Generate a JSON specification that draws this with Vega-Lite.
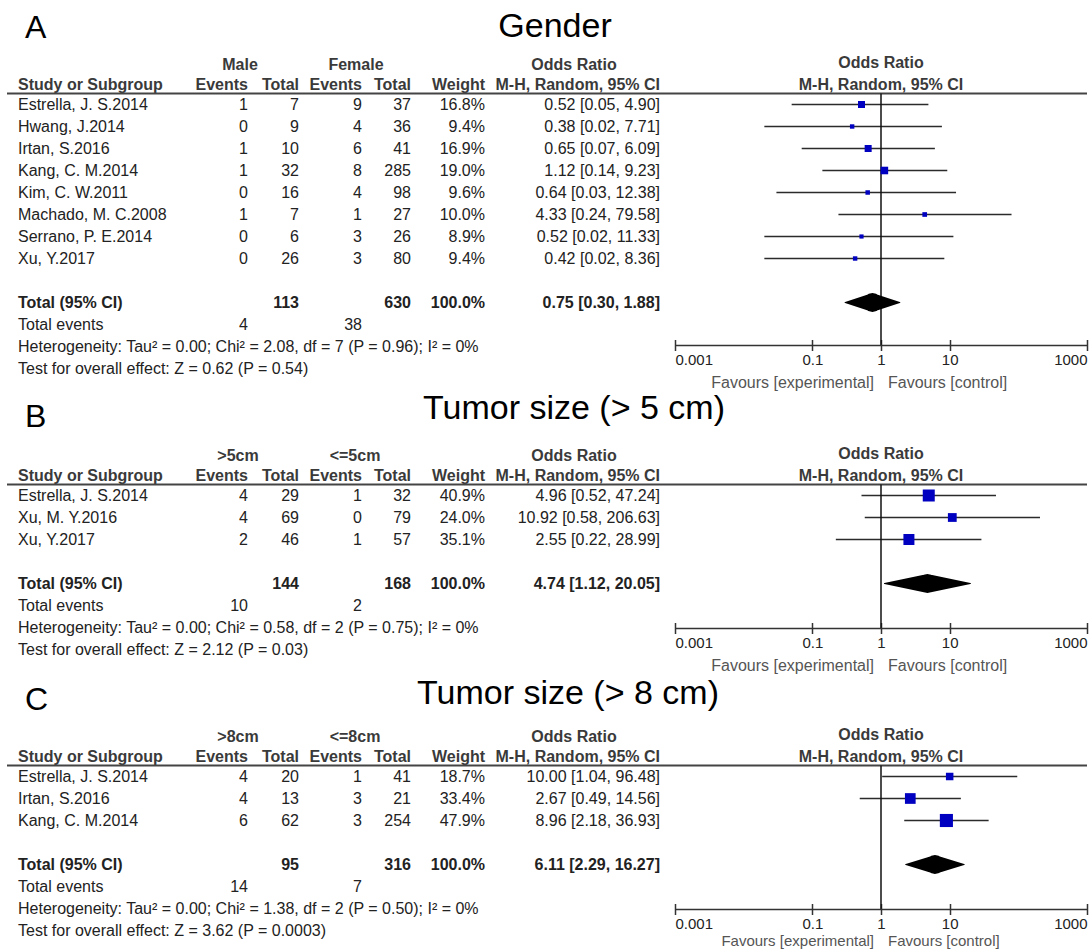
{
"$schema": "https://vega.github.io/schema/vega-lite/v6.json",
"padding": {"left": 6, "right": 5, "top": 0, "bottom": 0},
"background": "white",
"config": {
  "view": {"stroke": null},
  "text": {"font": "Liberation Sans", "fontSize": 16, "color": "#222", "baseline": "middle"},
  "axis": {"labelFont": "Liberation Sans"}
},
"datasets": {
  "titles": [
    {"p": "A", "letter": "A", "title": "Gender"},
    {"p": "B", "letter": "B", "title": "Tumor size (>  5 cm)"},
    {"p": "C", "letter": "C", "title": "Tumor size (> 8 cm)"}
  ],
  "heads": [
    {"col": "study", "r": 0, "t": "Study or Subgroup"},
    {"col": "e1", "r": 0, "t": "Events"},
    {"col": "n1", "r": 0, "t": "Total"},
    {"col": "e2", "r": 0, "t": "Events"},
    {"col": "n2", "r": 0, "t": "Total"},
    {"col": "w", "r": 0, "t": "Weight"},
    {"col": "ci", "r": 0, "t": "M-H, Random, 95% CI"},
    {"col": "ci", "r": -1, "t": "Odds Ratio"},
    {"col": "forest", "r": 0, "t": "M-H, Random, 95% CI"},
    {"col": "forest", "r": -1, "t": "Odds Ratio"}
  ],
  "groups": [
    {"p": "A", "col": "e1", "r": -1, "t": "Male"},
    {"p": "A", "col": "e2", "r": -1, "t": "Female"},
    {"p": "B", "col": "e1", "r": -1, "t": ">5cm"},
    {"p": "B", "col": "e2", "r": -1, "t": "<=5cm"},
    {"p": "C", "col": "e1", "r": -1, "t": ">8cm"},
    {"p": "C", "col": "e2", "r": -1, "t": "<=8cm"}
  ],
  "favours": [
    {"side": "experimental", "t": "Favours [experimental]"},
    {"side": "control", "t": "Favours [control]"}
  ],
  "table": [
    {"p":"A","r":1,"kind":"study","label":"Estrella, J. S.2014","e1":1,"n1":7,"e2":9,"n2":37,"w":0.168,"ci":"0.52 [0.05, 4.90]","est":0.52,"lo":0.05,"hi":4.90},
    {"p":"A","r":2,"kind":"study","label":"Hwang, J.2014","e1":0,"n1":9,"e2":4,"n2":36,"w":0.094,"ci":"0.38 [0.02, 7.71]","est":0.38,"lo":0.02,"hi":7.71},
    {"p":"A","r":3,"kind":"study","label":"Irtan, S.2016","e1":1,"n1":10,"e2":6,"n2":41,"w":0.169,"ci":"0.65 [0.07, 6.09]","est":0.65,"lo":0.07,"hi":6.09},
    {"p":"A","r":4,"kind":"study","label":"Kang, C. M.2014","e1":1,"n1":32,"e2":8,"n2":285,"w":0.19,"ci":"1.12 [0.14, 9.23]","est":1.12,"lo":0.14,"hi":9.23},
    {"p":"A","r":5,"kind":"study","label":"Kim, C. W.2011","e1":0,"n1":16,"e2":4,"n2":98,"w":0.096,"ci":"0.64 [0.03, 12.38]","est":0.64,"lo":0.03,"hi":12.38},
    {"p":"A","r":6,"kind":"study","label":"Machado, M. C.2008","e1":1,"n1":7,"e2":1,"n2":27,"w":0.10,"ci":"4.33 [0.24, 79.58]","est":4.33,"lo":0.24,"hi":79.58},
    {"p":"A","r":7,"kind":"study","label":"Serrano, P. E.2014","e1":0,"n1":6,"e2":3,"n2":26,"w":0.089,"ci":"0.52 [0.02, 11.33]","est":0.52,"lo":0.02,"hi":11.33},
    {"p":"A","r":8,"kind":"study","label":"Xu, Y.2017","e1":0,"n1":26,"e2":3,"n2":80,"w":0.094,"ci":"0.42 [0.02, 8.36]","est":0.42,"lo":0.02,"hi":8.36},
    {"p":"A","r":10,"kind":"total","label":"Total (95% CI)","n1":113,"n2":630,"w":1,"ci":"0.75 [0.30, 1.88]","est":0.75,"lo":0.30,"hi":1.88},
    {"p":"A","r":11,"kind":"events","label":"Total events","e1":4,"e2":38},
    {"p":"A","r":12,"kind":"note","label":"Heterogeneity: Tau² = 0.00; Chi² = 2.08, df = 7 (P = 0.96); I² = 0%"},
    {"p":"A","r":13,"kind":"note","label":"Test for overall effect: Z = 0.62 (P = 0.54)"},
    {"p":"B","r":1,"kind":"study","label":"Estrella, J. S.2014","e1":4,"n1":29,"e2":1,"n2":32,"w":0.409,"ci":"4.96 [0.52, 47.24]","est":4.96,"lo":0.52,"hi":47.24},
    {"p":"B","r":2,"kind":"study","label":"Xu, M. Y.2016","e1":4,"n1":69,"e2":0,"n2":79,"w":0.24,"ci":"10.92 [0.58, 206.63]","est":10.92,"lo":0.58,"hi":206.63},
    {"p":"B","r":3,"kind":"study","label":"Xu, Y.2017","e1":2,"n1":46,"e2":1,"n2":57,"w":0.351,"ci":"2.55 [0.22, 28.99]","est":2.55,"lo":0.22,"hi":28.99},
    {"p":"B","r":5,"kind":"total","label":"Total (95% CI)","n1":144,"n2":168,"w":1,"ci":"4.74 [1.12, 20.05]","est":4.74,"lo":1.12,"hi":20.05},
    {"p":"B","r":6,"kind":"events","label":"Total events","e1":10,"e2":2},
    {"p":"B","r":7,"kind":"note","label":"Heterogeneity: Tau² = 0.00; Chi² = 0.58, df = 2 (P = 0.75); I² = 0%"},
    {"p":"B","r":8,"kind":"note","label":"Test for overall effect: Z = 2.12 (P = 0.03)"},
    {"p":"C","r":1,"kind":"study","label":"Estrella, J. S.2014","e1":4,"n1":20,"e2":1,"n2":41,"w":0.187,"ci":"10.00 [1.04, 96.48]","est":10.0,"lo":1.04,"hi":96.48},
    {"p":"C","r":2,"kind":"study","label":"Irtan, S.2016","e1":4,"n1":13,"e2":3,"n2":21,"w":0.334,"ci":"2.67 [0.49, 14.56]","est":2.67,"lo":0.49,"hi":14.56},
    {"p":"C","r":3,"kind":"study","label":"Kang, C. M.2014","e1":6,"n1":62,"e2":3,"n2":254,"w":0.479,"ci":"8.96 [2.18, 36.93]","est":8.96,"lo":2.18,"hi":36.93},
    {"p":"C","r":5,"kind":"total","label":"Total (95% CI)","n1":95,"n2":316,"w":1,"ci":"6.11 [2.29, 16.27]","est":6.11,"lo":2.29,"hi":16.27},
    {"p":"C","r":6,"kind":"events","label":"Total events","e1":14,"e2":7},
    {"p":"C","r":7,"kind":"note","label":"Heterogeneity: Tau² = 0.00; Chi² = 1.38, df = 2 (P = 0.50); I² = 0%"},
    {"p":"C","r":8,"kind":"note","label":"Test for overall effect: Z = 3.62 (P = 0.0003)"}
  ]
},
"spacing": 0,
"vconcat": [
  {"width": 1080, "height": 41.5, "data": {"name": "titles"}, "transform": [{"filter": "datum.p=='A'"}],
   "layer": [
     {"mark": {"type": "text", "align": "left", "fontSize": 32, "color": "#000", "dx": 18, "dy": 7}, "encoding": {"x": {"value": 0}, "text": {"field": "letter", "type": "nominal"}}},
     {"mark": {"type": "text", "fontSize": 34, "color": "#000", "dx": 8, "dy": 6}, "encoding": {"text": {"field": "title", "type": "nominal"}}}
   ]},
  {"spacing": 0, "bounds": "flush", "hconcat": [
    {"width": 184, "height": 335.5, "encoding": {"y": {"field": "r", "type": "quantitative", "axis": null, "scale": {"domain": [-1.75, 13.5], "reverse": true, "nice": false, "zero": false}}},
     "layer": [
       {"data": {"name": "table"}, "transform": [{"filter": "datum.p=='A' && datum.kind!='total'"}], "mark": {"type": "text", "align": "left", "dx": 11}, "encoding": {"x": {"value": 0}, "text": {"field": "label", "type": "nominal"}}},
       {"data": {"name": "table"}, "transform": [{"filter": "datum.p=='A' && datum.kind=='total'"}], "mark": {"type": "text", "align": "left", "dx": 11, "fontWeight": "bold"}, "encoding": {"x": {"value": 0}, "text": {"field": "label", "type": "nominal"}}},
       {"data": {"name": "heads"}, "transform": [{"filter": "datum.col=='study'"}], "mark": {"type": "text", "align": "left", "dx": 11, "dy": 2, "fontWeight": "bold", "color": "#3a3a3a"}, "encoding": {"x": {"value": 0}, "text": {"field": "t", "type": "nominal"}}},
       {"data": {"name": "heads"}, "transform": [{"filter": "datum.col=='study'"}], "mark": {"type": "rule", "color": "#444", "strokeWidth": 2}, "encoding": {"y": {"datum": 0.5}}}
     ]},
    {"width": 57, "height": 335.5, "encoding": {"y": {"field": "r", "type": "quantitative", "axis": null, "scale": {"domain": [-1.75, 13.5], "reverse": true, "nice": false, "zero": false}}},
     "layer": [
       {"data": {"name": "table"}, "transform": [{"filter": "datum.p=='A' && isValid(datum.e1)"}], "mark": {"type": "text", "align": "right"}, "encoding": {"x": {"value": "width"}, "text": {"field": "e1", "type": "nominal"}}},
       {"data": {"name": "heads"}, "transform": [{"filter": "datum.col=='e1'"}], "mark": {"type": "text", "align": "right", "dy": 2, "fontWeight": "bold", "color": "#3a3a3a"}, "encoding": {"x": {"value": "width"}, "text": {"field": "t", "type": "nominal"}}},
       {"data": {"name": "groups"}, "transform": [{"filter": "datum.p=='A' && datum.col=='e1'"}], "mark": {"type": "text", "align": "center", "dx": -8, "dy": 4, "fontWeight": "bold", "color": "#3a3a3a"}, "encoding": {"x": {"value": "width"}, "text": {"field": "t", "type": "nominal"}}},
       {"data": {"name": "heads"}, "transform": [{"filter": "datum.col=='e1'"}], "mark": {"type": "rule", "color": "#444", "strokeWidth": 2}, "encoding": {"y": {"datum": 0.5}}}
     ]},
    {"width": 51, "height": 335.5, "encoding": {"y": {"field": "r", "type": "quantitative", "axis": null, "scale": {"domain": [-1.75, 13.5], "reverse": true, "nice": false, "zero": false}}},
     "layer": [
       {"data": {"name": "table"}, "transform": [{"filter": "datum.p=='A' && datum.kind=='study'"}], "mark": {"type": "text", "align": "right"}, "encoding": {"x": {"value": "width"}, "text": {"field": "n1", "type": "nominal"}}},
       {"data": {"name": "table"}, "transform": [{"filter": "datum.p=='A' && datum.kind=='total'"}], "mark": {"type": "text", "align": "right", "fontWeight": "bold"}, "encoding": {"x": {"value": "width"}, "text": {"field": "n1", "type": "nominal"}}},
       {"data": {"name": "heads"}, "transform": [{"filter": "datum.col=='n1'"}], "mark": {"type": "text", "align": "right", "dy": 2, "fontWeight": "bold", "color": "#3a3a3a"}, "encoding": {"x": {"value": "width"}, "text": {"field": "t", "type": "nominal"}}},
       {"data": {"name": "heads"}, "transform": [{"filter": "datum.col=='n1'"}], "mark": {"type": "rule", "color": "#444", "strokeWidth": 2}, "encoding": {"y": {"datum": 0.5}}}
     ]},
    {"width": 63, "height": 335.5, "encoding": {"y": {"field": "r", "type": "quantitative", "axis": null, "scale": {"domain": [-1.75, 13.5], "reverse": true, "nice": false, "zero": false}}},
     "layer": [
       {"data": {"name": "table"}, "transform": [{"filter": "datum.p=='A' && isValid(datum.e2)"}], "mark": {"type": "text", "align": "right"}, "encoding": {"x": {"value": "width"}, "text": {"field": "e2", "type": "nominal"}}},
       {"data": {"name": "heads"}, "transform": [{"filter": "datum.col=='e2'"}], "mark": {"type": "text", "align": "right", "dy": 2, "fontWeight": "bold", "color": "#3a3a3a"}, "encoding": {"x": {"value": "width"}, "text": {"field": "t", "type": "nominal"}}},
       {"data": {"name": "groups"}, "transform": [{"filter": "datum.p=='A' && datum.col=='e2'"}], "mark": {"type": "text", "align": "center", "dx": -6, "dy": 4, "fontWeight": "bold", "color": "#3a3a3a"}, "encoding": {"x": {"value": "width"}, "text": {"field": "t", "type": "nominal"}}},
       {"data": {"name": "heads"}, "transform": [{"filter": "datum.col=='e2'"}], "mark": {"type": "rule", "color": "#444", "strokeWidth": 2}, "encoding": {"y": {"datum": 0.5}}}
     ]},
    {"width": 49, "height": 335.5, "encoding": {"y": {"field": "r", "type": "quantitative", "axis": null, "scale": {"domain": [-1.75, 13.5], "reverse": true, "nice": false, "zero": false}}},
     "layer": [
       {"data": {"name": "table"}, "transform": [{"filter": "datum.p=='A' && datum.kind=='study'"}], "mark": {"type": "text", "align": "right"}, "encoding": {"x": {"value": "width"}, "text": {"field": "n2", "type": "nominal"}}},
       {"data": {"name": "table"}, "transform": [{"filter": "datum.p=='A' && datum.kind=='total'"}], "mark": {"type": "text", "align": "right", "fontWeight": "bold"}, "encoding": {"x": {"value": "width"}, "text": {"field": "n2", "type": "nominal"}}},
       {"data": {"name": "heads"}, "transform": [{"filter": "datum.col=='n2'"}], "mark": {"type": "text", "align": "right", "dy": 2, "fontWeight": "bold", "color": "#3a3a3a"}, "encoding": {"x": {"value": "width"}, "text": {"field": "t", "type": "nominal"}}},
       {"data": {"name": "heads"}, "transform": [{"filter": "datum.col=='n2'"}], "mark": {"type": "rule", "color": "#444", "strokeWidth": 2}, "encoding": {"y": {"datum": 0.5}}}
     ]},
    {"width": 74, "height": 335.5, "encoding": {"y": {"field": "r", "type": "quantitative", "axis": null, "scale": {"domain": [-1.75, 13.5], "reverse": true, "nice": false, "zero": false}}},
     "layer": [
       {"data": {"name": "table"}, "transform": [{"filter": "datum.p=='A' && datum.kind=='study'"}], "mark": {"type": "text", "align": "right"}, "encoding": {"x": {"value": "width"}, "text": {"field": "w", "type": "quantitative", "format": ".1%"}}},
       {"data": {"name": "table"}, "transform": [{"filter": "datum.p=='A' && datum.kind=='total'"}], "mark": {"type": "text", "align": "right", "fontWeight": "bold"}, "encoding": {"x": {"value": "width"}, "text": {"field": "w", "type": "quantitative", "format": ".1%"}}},
       {"data": {"name": "heads"}, "transform": [{"filter": "datum.col=='w'"}], "mark": {"type": "text", "align": "right", "dy": 2, "fontWeight": "bold", "color": "#3a3a3a"}, "encoding": {"x": {"value": "width"}, "text": {"field": "t", "type": "nominal"}}},
       {"data": {"name": "heads"}, "transform": [{"filter": "datum.col=='w'"}], "mark": {"type": "rule", "color": "#444", "strokeWidth": 2}, "encoding": {"y": {"datum": 0.5}}}
     ]},
    {"width": 190, "height": 335.5, "encoding": {"y": {"field": "r", "type": "quantitative", "axis": null, "scale": {"domain": [-1.75, 13.5], "reverse": true, "nice": false, "zero": false}}},
     "layer": [
       {"data": {"name": "table"}, "transform": [{"filter": "datum.p=='A' && datum.kind=='study'"}], "mark": {"type": "text", "align": "right", "dx": -15}, "encoding": {"x": {"value": "width"}, "text": {"field": "ci", "type": "nominal"}}},
       {"data": {"name": "table"}, "transform": [{"filter": "datum.p=='A' && datum.kind=='total'"}], "mark": {"type": "text", "align": "right", "dx": -15, "fontWeight": "bold"}, "encoding": {"x": {"value": "width"}, "text": {"field": "ci", "type": "nominal"}}},
       {"data": {"name": "heads"}, "transform": [{"filter": "datum.col=='ci' && datum.r==0"}], "mark": {"type": "text", "align": "right", "dx": -15, "dy": 2, "fontWeight": "bold", "color": "#3a3a3a"}, "encoding": {"x": {"value": "width"}, "text": {"field": "t", "type": "nominal"}}},
       {"data": {"name": "heads"}, "transform": [{"filter": "datum.col=='ci' && datum.r==-1"}], "mark": {"type": "text", "align": "center", "dx": -6, "dy": 4, "fontWeight": "bold", "color": "#3a3a3a"}, "encoding": {"text": {"field": "t", "type": "nominal"}}},
       {"data": {"name": "heads"}, "transform": [{"filter": "datum.col=='ci' && datum.r==0"}], "mark": {"type": "rule", "color": "#444", "strokeWidth": 2}, "encoding": {"y": {"datum": 0.5}}}
     ]},
    {"width": 412, "height": 347.5, "encoding": {"y": {"field": "r", "type": "quantitative", "axis": null, "scale": {"domain": [-1.75, 14.0455], "reverse": true, "nice": false, "zero": false}}},
     "layer": [
       {"data": {"name": "heads"}, "transform": [{"filter": "datum.col=='forest' && datum.r==0"}], "mark": {"type": "rule", "color": "#444", "strokeWidth": 2}, "encoding": {"y": {"datum": 0.5}}},
       {"data": {"name": "heads"}, "transform": [{"filter": "datum.col=='forest'"}], "mark": {"type": "text", "align": "center", "dy": 3, "fontWeight": "bold", "color": "#3a3a3a"}, "encoding": {"text": {"field": "t", "type": "nominal"}}},
       {"data": {"name": "table"}, "transform": [{"filter": "datum.p=='A' && datum.kind=='study'"}], "mark": {"type": "rule", "color": "#2b2b2b", "strokeWidth": 1.5},
        "encoding": {"x": {"field": "lo", "type": "quantitative", "scale": {"type": "log", "domain": [0.001, 1000], "nice": false},
                           "axis": {"values": [0.001, 0.1, 1, 10, 1000], "format": "~g", "labelFlush": true, "domain": false, "grid": false, "ticks": true, "tickSize": 11, "offset": -52, "tickColor": "#333", "tickWidth": 1.5, "labelFontSize": 15, "labelColor": "#222", "labelPadding": 2, "title": null, "orient": "bottom"}},
                     "x2": {"field": "hi"}}},
       {"data": {"name": "table"}, "transform": [{"filter": "datum.p=='A' && datum.kind=='total'"}], "mark": {"type": "rule", "color": "#111", "strokeWidth": 1.5}, "encoding": {"x": {"datum": 1}, "y": {"datum": 0.5}, "y2": {"datum": 11.9545}}},
       {"data": {"name": "table"}, "transform": [{"filter": "datum.p=='A' && datum.kind=='total'"}], "mark": {"type": "rule", "color": "#333", "strokeWidth": 1.5}, "encoding": {"y": {"datum": 11.9545}}},
       {"data": {"name": "table"}, "transform": [{"filter": "datum.p=='A' && datum.kind=='study'"}], "mark": {"type": "point", "shape": "square", "filled": true, "color": "#0000c0", "opacity": 1},
        "encoding": {"x": {"field": "est", "type": "quantitative"}, "size": {"field": "w", "type": "quantitative", "scale": {"domain": [0.07, 0.5], "range": [10, 180], "zero": false}, "legend": null}}},
       {"data": {"name": "table"}, "transform": [{"filter": "datum.p=='A' && datum.kind=='total'"}, {"fold": ["lo", "est", "hi"], "as": ["key", "val"]}], "mark": {"type": "trail", "color": "#000"},
        "encoding": {"x": {"field": "val", "type": "quantitative"}, "size": {"condition": {"test": "datum.key=='est'", "value": 19}, "value": 0}}},
       {"data": {"name": "favours"}, "transform": [{"filter": "datum.side=='experimental'"}], "mark": {"type": "text", "align": "right", "dx": -7, "dy": -9, "color": "#555"}, "encoding": {"x": {"datum": 1}, "y": {"value": "height"}, "text": {"field": "t", "type": "nominal"}}},
       {"data": {"name": "favours"}, "transform": [{"filter": "datum.side=='control'"}], "mark": {"type": "text", "align": "left", "dx": 7, "dy": -9, "color": "#555"}, "encoding": {"x": {"datum": 1}, "y": {"value": "height"}, "text": {"field": "t", "type": "nominal"}}}
     ]}
  ]},
  {"width": 1080, "height": 42.5, "data": {"name": "titles"}, "transform": [{"filter": "datum.p=='B'"}],
   "layer": [
     {"mark": {"type": "text", "align": "left", "fontSize": 32, "color": "#000", "dx": 18, "dy": 4}, "encoding": {"x": {"value": 0}, "text": {"field": "letter", "type": "nominal"}}},
     {"mark": {"type": "text", "fontSize": 34, "color": "#000", "dx": 27, "dy": -4}, "encoding": {"text": {"field": "title", "type": "nominal"}}}
   ]},
  {"spacing": 0, "bounds": "flush", "hconcat": [
    {"width": 184, "height": 225.5, "encoding": {"y": {"field": "r", "type": "quantitative", "axis": null, "scale": {"domain": [-1.75, 8.5], "reverse": true, "nice": false, "zero": false}}},
     "layer": [
       {"data": {"name": "table"}, "transform": [{"filter": "datum.p=='B' && datum.kind!='total'"}], "mark": {"type": "text", "align": "left", "dx": 11}, "encoding": {"x": {"value": 0}, "text": {"field": "label", "type": "nominal"}}},
       {"data": {"name": "table"}, "transform": [{"filter": "datum.p=='B' && datum.kind=='total'"}], "mark": {"type": "text", "align": "left", "dx": 11, "fontWeight": "bold"}, "encoding": {"x": {"value": 0}, "text": {"field": "label", "type": "nominal"}}},
       {"data": {"name": "heads"}, "transform": [{"filter": "datum.col=='study'"}], "mark": {"type": "text", "align": "left", "dx": 11, "dy": 2, "fontWeight": "bold", "color": "#3a3a3a"}, "encoding": {"x": {"value": 0}, "text": {"field": "t", "type": "nominal"}}},
       {"data": {"name": "heads"}, "transform": [{"filter": "datum.col=='study'"}], "mark": {"type": "rule", "color": "#444", "strokeWidth": 2}, "encoding": {"y": {"datum": 0.5}}}
     ]},
    {"width": 57, "height": 225.5, "encoding": {"y": {"field": "r", "type": "quantitative", "axis": null, "scale": {"domain": [-1.75, 8.5], "reverse": true, "nice": false, "zero": false}}},
     "layer": [
       {"data": {"name": "table"}, "transform": [{"filter": "datum.p=='B' && isValid(datum.e1)"}], "mark": {"type": "text", "align": "right"}, "encoding": {"x": {"value": "width"}, "text": {"field": "e1", "type": "nominal"}}},
       {"data": {"name": "heads"}, "transform": [{"filter": "datum.col=='e1'"}], "mark": {"type": "text", "align": "right", "dy": 2, "fontWeight": "bold", "color": "#3a3a3a"}, "encoding": {"x": {"value": "width"}, "text": {"field": "t", "type": "nominal"}}},
       {"data": {"name": "groups"}, "transform": [{"filter": "datum.p=='B' && datum.col=='e1'"}], "mark": {"type": "text", "align": "center", "dx": -10, "dy": 4, "fontWeight": "bold", "color": "#3a3a3a"}, "encoding": {"x": {"value": "width"}, "text": {"field": "t", "type": "nominal"}}},
       {"data": {"name": "heads"}, "transform": [{"filter": "datum.col=='e1'"}], "mark": {"type": "rule", "color": "#444", "strokeWidth": 2}, "encoding": {"y": {"datum": 0.5}}}
     ]},
    {"width": 51, "height": 225.5, "encoding": {"y": {"field": "r", "type": "quantitative", "axis": null, "scale": {"domain": [-1.75, 8.5], "reverse": true, "nice": false, "zero": false}}},
     "layer": [
       {"data": {"name": "table"}, "transform": [{"filter": "datum.p=='B' && datum.kind=='study'"}], "mark": {"type": "text", "align": "right"}, "encoding": {"x": {"value": "width"}, "text": {"field": "n1", "type": "nominal"}}},
       {"data": {"name": "table"}, "transform": [{"filter": "datum.p=='B' && datum.kind=='total'"}], "mark": {"type": "text", "align": "right", "fontWeight": "bold"}, "encoding": {"x": {"value": "width"}, "text": {"field": "n1", "type": "nominal"}}},
       {"data": {"name": "heads"}, "transform": [{"filter": "datum.col=='n1'"}], "mark": {"type": "text", "align": "right", "dy": 2, "fontWeight": "bold", "color": "#3a3a3a"}, "encoding": {"x": {"value": "width"}, "text": {"field": "t", "type": "nominal"}}},
       {"data": {"name": "heads"}, "transform": [{"filter": "datum.col=='n1'"}], "mark": {"type": "rule", "color": "#444", "strokeWidth": 2}, "encoding": {"y": {"datum": 0.5}}}
     ]},
    {"width": 63, "height": 225.5, "encoding": {"y": {"field": "r", "type": "quantitative", "axis": null, "scale": {"domain": [-1.75, 8.5], "reverse": true, "nice": false, "zero": false}}},
     "layer": [
       {"data": {"name": "table"}, "transform": [{"filter": "datum.p=='B' && isValid(datum.e2)"}], "mark": {"type": "text", "align": "right"}, "encoding": {"x": {"value": "width"}, "text": {"field": "e2", "type": "nominal"}}},
       {"data": {"name": "heads"}, "transform": [{"filter": "datum.col=='e2'"}], "mark": {"type": "text", "align": "right", "dy": 2, "fontWeight": "bold", "color": "#3a3a3a"}, "encoding": {"x": {"value": "width"}, "text": {"field": "t", "type": "nominal"}}},
       {"data": {"name": "groups"}, "transform": [{"filter": "datum.p=='B' && datum.col=='e2'"}], "mark": {"type": "text", "align": "center", "dx": -7, "dy": 4, "fontWeight": "bold", "color": "#3a3a3a"}, "encoding": {"x": {"value": "width"}, "text": {"field": "t", "type": "nominal"}}},
       {"data": {"name": "heads"}, "transform": [{"filter": "datum.col=='e2'"}], "mark": {"type": "rule", "color": "#444", "strokeWidth": 2}, "encoding": {"y": {"datum": 0.5}}}
     ]},
    {"width": 49, "height": 225.5, "encoding": {"y": {"field": "r", "type": "quantitative", "axis": null, "scale": {"domain": [-1.75, 8.5], "reverse": true, "nice": false, "zero": false}}},
     "layer": [
       {"data": {"name": "table"}, "transform": [{"filter": "datum.p=='B' && datum.kind=='study'"}], "mark": {"type": "text", "align": "right"}, "encoding": {"x": {"value": "width"}, "text": {"field": "n2", "type": "nominal"}}},
       {"data": {"name": "table"}, "transform": [{"filter": "datum.p=='B' && datum.kind=='total'"}], "mark": {"type": "text", "align": "right", "fontWeight": "bold"}, "encoding": {"x": {"value": "width"}, "text": {"field": "n2", "type": "nominal"}}},
       {"data": {"name": "heads"}, "transform": [{"filter": "datum.col=='n2'"}], "mark": {"type": "text", "align": "right", "dy": 2, "fontWeight": "bold", "color": "#3a3a3a"}, "encoding": {"x": {"value": "width"}, "text": {"field": "t", "type": "nominal"}}},
       {"data": {"name": "heads"}, "transform": [{"filter": "datum.col=='n2'"}], "mark": {"type": "rule", "color": "#444", "strokeWidth": 2}, "encoding": {"y": {"datum": 0.5}}}
     ]},
    {"width": 74, "height": 225.5, "encoding": {"y": {"field": "r", "type": "quantitative", "axis": null, "scale": {"domain": [-1.75, 8.5], "reverse": true, "nice": false, "zero": false}}},
     "layer": [
       {"data": {"name": "table"}, "transform": [{"filter": "datum.p=='B' && datum.kind=='study'"}], "mark": {"type": "text", "align": "right"}, "encoding": {"x": {"value": "width"}, "text": {"field": "w", "type": "quantitative", "format": ".1%"}}},
       {"data": {"name": "table"}, "transform": [{"filter": "datum.p=='B' && datum.kind=='total'"}], "mark": {"type": "text", "align": "right", "fontWeight": "bold"}, "encoding": {"x": {"value": "width"}, "text": {"field": "w", "type": "quantitative", "format": ".1%"}}},
       {"data": {"name": "heads"}, "transform": [{"filter": "datum.col=='w'"}], "mark": {"type": "text", "align": "right", "dy": 2, "fontWeight": "bold", "color": "#3a3a3a"}, "encoding": {"x": {"value": "width"}, "text": {"field": "t", "type": "nominal"}}},
       {"data": {"name": "heads"}, "transform": [{"filter": "datum.col=='w'"}], "mark": {"type": "rule", "color": "#444", "strokeWidth": 2}, "encoding": {"y": {"datum": 0.5}}}
     ]},
    {"width": 190, "height": 225.5, "encoding": {"y": {"field": "r", "type": "quantitative", "axis": null, "scale": {"domain": [-1.75, 8.5], "reverse": true, "nice": false, "zero": false}}},
     "layer": [
       {"data": {"name": "table"}, "transform": [{"filter": "datum.p=='B' && datum.kind=='study'"}], "mark": {"type": "text", "align": "right", "dx": -15}, "encoding": {"x": {"value": "width"}, "text": {"field": "ci", "type": "nominal"}}},
       {"data": {"name": "table"}, "transform": [{"filter": "datum.p=='B' && datum.kind=='total'"}], "mark": {"type": "text", "align": "right", "dx": -15, "fontWeight": "bold"}, "encoding": {"x": {"value": "width"}, "text": {"field": "ci", "type": "nominal"}}},
       {"data": {"name": "heads"}, "transform": [{"filter": "datum.col=='ci' && datum.r==0"}], "mark": {"type": "text", "align": "right", "dx": -15, "dy": 2, "fontWeight": "bold", "color": "#3a3a3a"}, "encoding": {"x": {"value": "width"}, "text": {"field": "t", "type": "nominal"}}},
       {"data": {"name": "heads"}, "transform": [{"filter": "datum.col=='ci' && datum.r==-1"}], "mark": {"type": "text", "align": "center", "dx": -6, "dy": 4, "fontWeight": "bold", "color": "#3a3a3a"}, "encoding": {"text": {"field": "t", "type": "nominal"}}},
       {"data": {"name": "heads"}, "transform": [{"filter": "datum.col=='ci' && datum.r==0"}], "mark": {"type": "rule", "color": "#444", "strokeWidth": 2}, "encoding": {"y": {"datum": 0.5}}}
     ]},
    {"width": 412, "height": 239.5, "encoding": {"y": {"field": "r", "type": "quantitative", "axis": null, "scale": {"domain": [-1.75, 9.1364], "reverse": true, "nice": false, "zero": false}}},
     "layer": [
       {"data": {"name": "heads"}, "transform": [{"filter": "datum.col=='forest' && datum.r==0"}], "mark": {"type": "rule", "color": "#444", "strokeWidth": 2}, "encoding": {"y": {"datum": 0.5}}},
       {"data": {"name": "heads"}, "transform": [{"filter": "datum.col=='forest'"}], "mark": {"type": "text", "align": "center", "dy": 3, "fontWeight": "bold", "color": "#3a3a3a"}, "encoding": {"text": {"field": "t", "type": "nominal"}}},
       {"data": {"name": "table"}, "transform": [{"filter": "datum.p=='B' && datum.kind=='study'"}], "mark": {"type": "rule", "color": "#2b2b2b", "strokeWidth": 1.5},
        "encoding": {"x": {"field": "lo", "type": "quantitative", "scale": {"type": "log", "domain": [0.001, 1000], "nice": false},
                           "axis": {"values": [0.001, 0.1, 1, 10, 1000], "format": "~g", "labelFlush": true, "domain": false, "grid": false, "ticks": true, "tickSize": 11, "offset": -52, "tickColor": "#333", "tickWidth": 1.5, "labelFontSize": 15, "labelColor": "#222", "labelPadding": 2, "title": null, "orient": "bottom"}},
                     "x2": {"field": "hi"}}},
       {"data": {"name": "table"}, "transform": [{"filter": "datum.p=='B' && datum.kind=='total'"}], "mark": {"type": "rule", "color": "#111", "strokeWidth": 1.5}, "encoding": {"x": {"datum": 1}, "y": {"datum": 0.5}, "y2": {"datum": 7.0455}}},
       {"data": {"name": "table"}, "transform": [{"filter": "datum.p=='B' && datum.kind=='total'"}], "mark": {"type": "rule", "color": "#333", "strokeWidth": 1.5}, "encoding": {"y": {"datum": 7.0455}}},
       {"data": {"name": "table"}, "transform": [{"filter": "datum.p=='B' && datum.kind=='study'"}], "mark": {"type": "point", "shape": "square", "filled": true, "color": "#0000c0", "opacity": 1},
        "encoding": {"x": {"field": "est", "type": "quantitative"}, "size": {"field": "w", "type": "quantitative", "scale": {"domain": [0.07, 0.5], "range": [10, 180], "zero": false}, "legend": null}}},
       {"data": {"name": "table"}, "transform": [{"filter": "datum.p=='B' && datum.kind=='total'"}, {"fold": ["lo", "est", "hi"], "as": ["key", "val"]}], "mark": {"type": "trail", "color": "#000"},
        "encoding": {"x": {"field": "val", "type": "quantitative"}, "size": {"condition": {"test": "datum.key=='est'", "value": 19}, "value": 0}}},
       {"data": {"name": "favours"}, "transform": [{"filter": "datum.side=='experimental'"}], "mark": {"type": "text", "align": "right", "dx": -7, "dy": -9, "color": "#555"}, "encoding": {"x": {"datum": 1}, "y": {"value": "height"}, "text": {"field": "t", "type": "nominal"}}},
       {"data": {"name": "favours"}, "transform": [{"filter": "datum.side=='control'"}], "mark": {"type": "text", "align": "left", "dx": 7, "dy": -9, "color": "#555"}, "encoding": {"x": {"datum": 1}, "y": {"value": "height"}, "text": {"field": "t", "type": "nominal"}}}
     ]}
  ]},
  {"width": 1080, "height": 37, "data": {"name": "titles"}, "transform": [{"filter": "datum.p=='C'"}],
   "layer": [
     {"mark": {"type": "text", "align": "left", "fontSize": 32, "color": "#000", "dx": 18, "dy": 6}, "encoding": {"x": {"value": 0}, "text": {"field": "letter", "type": "nominal"}}},
     {"mark": {"type": "text", "fontSize": 34, "color": "#000", "dx": 21, "dy": 0}, "encoding": {"text": {"field": "title", "type": "nominal"}}}
   ]},
  {"spacing": 0, "bounds": "flush", "hconcat": [
    {"width": 184, "height": 225.5, "encoding": {"y": {"field": "r", "type": "quantitative", "axis": null, "scale": {"domain": [-1.75, 8.5], "reverse": true, "nice": false, "zero": false}}},
     "layer": [
       {"data": {"name": "table"}, "transform": [{"filter": "datum.p=='C' && datum.kind!='total'"}], "mark": {"type": "text", "align": "left", "dx": 11}, "encoding": {"x": {"value": 0}, "text": {"field": "label", "type": "nominal"}}},
       {"data": {"name": "table"}, "transform": [{"filter": "datum.p=='C' && datum.kind=='total'"}], "mark": {"type": "text", "align": "left", "dx": 11, "fontWeight": "bold"}, "encoding": {"x": {"value": 0}, "text": {"field": "label", "type": "nominal"}}},
       {"data": {"name": "heads"}, "transform": [{"filter": "datum.col=='study'"}], "mark": {"type": "text", "align": "left", "dx": 11, "dy": 2, "fontWeight": "bold", "color": "#3a3a3a"}, "encoding": {"x": {"value": 0}, "text": {"field": "t", "type": "nominal"}}},
       {"data": {"name": "heads"}, "transform": [{"filter": "datum.col=='study'"}], "mark": {"type": "rule", "color": "#444", "strokeWidth": 2}, "encoding": {"y": {"datum": 0.5}}}
     ]},
    {"width": 57, "height": 225.5, "encoding": {"y": {"field": "r", "type": "quantitative", "axis": null, "scale": {"domain": [-1.75, 8.5], "reverse": true, "nice": false, "zero": false}}},
     "layer": [
       {"data": {"name": "table"}, "transform": [{"filter": "datum.p=='C' && isValid(datum.e1)"}], "mark": {"type": "text", "align": "right"}, "encoding": {"x": {"value": "width"}, "text": {"field": "e1", "type": "nominal"}}},
       {"data": {"name": "heads"}, "transform": [{"filter": "datum.col=='e1'"}], "mark": {"type": "text", "align": "right", "dy": 2, "fontWeight": "bold", "color": "#3a3a3a"}, "encoding": {"x": {"value": "width"}, "text": {"field": "t", "type": "nominal"}}},
       {"data": {"name": "groups"}, "transform": [{"filter": "datum.p=='C' && datum.col=='e1'"}], "mark": {"type": "text", "align": "center", "dx": -10, "dy": 4, "fontWeight": "bold", "color": "#3a3a3a"}, "encoding": {"x": {"value": "width"}, "text": {"field": "t", "type": "nominal"}}},
       {"data": {"name": "heads"}, "transform": [{"filter": "datum.col=='e1'"}], "mark": {"type": "rule", "color": "#444", "strokeWidth": 2}, "encoding": {"y": {"datum": 0.5}}}
     ]},
    {"width": 51, "height": 225.5, "encoding": {"y": {"field": "r", "type": "quantitative", "axis": null, "scale": {"domain": [-1.75, 8.5], "reverse": true, "nice": false, "zero": false}}},
     "layer": [
       {"data": {"name": "table"}, "transform": [{"filter": "datum.p=='C' && datum.kind=='study'"}], "mark": {"type": "text", "align": "right"}, "encoding": {"x": {"value": "width"}, "text": {"field": "n1", "type": "nominal"}}},
       {"data": {"name": "table"}, "transform": [{"filter": "datum.p=='C' && datum.kind=='total'"}], "mark": {"type": "text", "align": "right", "fontWeight": "bold"}, "encoding": {"x": {"value": "width"}, "text": {"field": "n1", "type": "nominal"}}},
       {"data": {"name": "heads"}, "transform": [{"filter": "datum.col=='n1'"}], "mark": {"type": "text", "align": "right", "dy": 2, "fontWeight": "bold", "color": "#3a3a3a"}, "encoding": {"x": {"value": "width"}, "text": {"field": "t", "type": "nominal"}}},
       {"data": {"name": "heads"}, "transform": [{"filter": "datum.col=='n1'"}], "mark": {"type": "rule", "color": "#444", "strokeWidth": 2}, "encoding": {"y": {"datum": 0.5}}}
     ]},
    {"width": 63, "height": 225.5, "encoding": {"y": {"field": "r", "type": "quantitative", "axis": null, "scale": {"domain": [-1.75, 8.5], "reverse": true, "nice": false, "zero": false}}},
     "layer": [
       {"data": {"name": "table"}, "transform": [{"filter": "datum.p=='C' && isValid(datum.e2)"}], "mark": {"type": "text", "align": "right"}, "encoding": {"x": {"value": "width"}, "text": {"field": "e2", "type": "nominal"}}},
       {"data": {"name": "heads"}, "transform": [{"filter": "datum.col=='e2'"}], "mark": {"type": "text", "align": "right", "dy": 2, "fontWeight": "bold", "color": "#3a3a3a"}, "encoding": {"x": {"value": "width"}, "text": {"field": "t", "type": "nominal"}}},
       {"data": {"name": "groups"}, "transform": [{"filter": "datum.p=='C' && datum.col=='e2'"}], "mark": {"type": "text", "align": "center", "dx": -7, "dy": 4, "fontWeight": "bold", "color": "#3a3a3a"}, "encoding": {"x": {"value": "width"}, "text": {"field": "t", "type": "nominal"}}},
       {"data": {"name": "heads"}, "transform": [{"filter": "datum.col=='e2'"}], "mark": {"type": "rule", "color": "#444", "strokeWidth": 2}, "encoding": {"y": {"datum": 0.5}}}
     ]},
    {"width": 49, "height": 225.5, "encoding": {"y": {"field": "r", "type": "quantitative", "axis": null, "scale": {"domain": [-1.75, 8.5], "reverse": true, "nice": false, "zero": false}}},
     "layer": [
       {"data": {"name": "table"}, "transform": [{"filter": "datum.p=='C' && datum.kind=='study'"}], "mark": {"type": "text", "align": "right"}, "encoding": {"x": {"value": "width"}, "text": {"field": "n2", "type": "nominal"}}},
       {"data": {"name": "table"}, "transform": [{"filter": "datum.p=='C' && datum.kind=='total'"}], "mark": {"type": "text", "align": "right", "fontWeight": "bold"}, "encoding": {"x": {"value": "width"}, "text": {"field": "n2", "type": "nominal"}}},
       {"data": {"name": "heads"}, "transform": [{"filter": "datum.col=='n2'"}], "mark": {"type": "text", "align": "right", "dy": 2, "fontWeight": "bold", "color": "#3a3a3a"}, "encoding": {"x": {"value": "width"}, "text": {"field": "t", "type": "nominal"}}},
       {"data": {"name": "heads"}, "transform": [{"filter": "datum.col=='n2'"}], "mark": {"type": "rule", "color": "#444", "strokeWidth": 2}, "encoding": {"y": {"datum": 0.5}}}
     ]},
    {"width": 74, "height": 225.5, "encoding": {"y": {"field": "r", "type": "quantitative", "axis": null, "scale": {"domain": [-1.75, 8.5], "reverse": true, "nice": false, "zero": false}}},
     "layer": [
       {"data": {"name": "table"}, "transform": [{"filter": "datum.p=='C' && datum.kind=='study'"}], "mark": {"type": "text", "align": "right"}, "encoding": {"x": {"value": "width"}, "text": {"field": "w", "type": "quantitative", "format": ".1%"}}},
       {"data": {"name": "table"}, "transform": [{"filter": "datum.p=='C' && datum.kind=='total'"}], "mark": {"type": "text", "align": "right", "fontWeight": "bold"}, "encoding": {"x": {"value": "width"}, "text": {"field": "w", "type": "quantitative", "format": ".1%"}}},
       {"data": {"name": "heads"}, "transform": [{"filter": "datum.col=='w'"}], "mark": {"type": "text", "align": "right", "dy": 2, "fontWeight": "bold", "color": "#3a3a3a"}, "encoding": {"x": {"value": "width"}, "text": {"field": "t", "type": "nominal"}}},
       {"data": {"name": "heads"}, "transform": [{"filter": "datum.col=='w'"}], "mark": {"type": "rule", "color": "#444", "strokeWidth": 2}, "encoding": {"y": {"datum": 0.5}}}
     ]},
    {"width": 190, "height": 225.5, "encoding": {"y": {"field": "r", "type": "quantitative", "axis": null, "scale": {"domain": [-1.75, 8.5], "reverse": true, "nice": false, "zero": false}}},
     "layer": [
       {"data": {"name": "table"}, "transform": [{"filter": "datum.p=='C' && datum.kind=='study'"}], "mark": {"type": "text", "align": "right", "dx": -15}, "encoding": {"x": {"value": "width"}, "text": {"field": "ci", "type": "nominal"}}},
       {"data": {"name": "table"}, "transform": [{"filter": "datum.p=='C' && datum.kind=='total'"}], "mark": {"type": "text", "align": "right", "dx": -15, "fontWeight": "bold"}, "encoding": {"x": {"value": "width"}, "text": {"field": "ci", "type": "nominal"}}},
       {"data": {"name": "heads"}, "transform": [{"filter": "datum.col=='ci' && datum.r==0"}], "mark": {"type": "text", "align": "right", "dx": -15, "dy": 2, "fontWeight": "bold", "color": "#3a3a3a"}, "encoding": {"x": {"value": "width"}, "text": {"field": "t", "type": "nominal"}}},
       {"data": {"name": "heads"}, "transform": [{"filter": "datum.col=='ci' && datum.r==-1"}], "mark": {"type": "text", "align": "center", "dx": -6, "dy": 4, "fontWeight": "bold", "color": "#3a3a3a"}, "encoding": {"text": {"field": "t", "type": "nominal"}}},
       {"data": {"name": "heads"}, "transform": [{"filter": "datum.col=='ci' && datum.r==0"}], "mark": {"type": "rule", "color": "#444", "strokeWidth": 2}, "encoding": {"y": {"datum": 0.5}}}
     ]},
    {"width": 412, "height": 239.5, "encoding": {"y": {"field": "r", "type": "quantitative", "axis": null, "scale": {"domain": [-1.75, 9.1364], "reverse": true, "nice": false, "zero": false}}},
     "layer": [
       {"data": {"name": "heads"}, "transform": [{"filter": "datum.col=='forest' && datum.r==0"}], "mark": {"type": "rule", "color": "#444", "strokeWidth": 2}, "encoding": {"y": {"datum": 0.5}}},
       {"data": {"name": "heads"}, "transform": [{"filter": "datum.col=='forest'"}], "mark": {"type": "text", "align": "center", "dy": 3, "fontWeight": "bold", "color": "#3a3a3a"}, "encoding": {"text": {"field": "t", "type": "nominal"}}},
       {"data": {"name": "table"}, "transform": [{"filter": "datum.p=='C' && datum.kind=='study'"}], "mark": {"type": "rule", "color": "#2b2b2b", "strokeWidth": 1.5},
        "encoding": {"x": {"field": "lo", "type": "quantitative", "scale": {"type": "log", "domain": [0.001, 1000], "nice": false},
                           "axis": {"values": [0.001, 0.1, 1, 10, 1000], "format": "~g", "labelFlush": true, "domain": false, "grid": false, "ticks": true, "tickSize": 11, "offset": -52, "tickColor": "#333", "tickWidth": 1.5, "labelFontSize": 15, "labelColor": "#222", "labelPadding": 2, "title": null, "orient": "bottom"}},
                     "x2": {"field": "hi"}}},
       {"data": {"name": "table"}, "transform": [{"filter": "datum.p=='C' && datum.kind=='total'"}], "mark": {"type": "rule", "color": "#111", "strokeWidth": 1.5}, "encoding": {"x": {"datum": 1}, "y": {"datum": 0.5}, "y2": {"datum": 7.0455}}},
       {"data": {"name": "table"}, "transform": [{"filter": "datum.p=='C' && datum.kind=='total'"}], "mark": {"type": "rule", "color": "#333", "strokeWidth": 1.5}, "encoding": {"y": {"datum": 7.0455}}},
       {"data": {"name": "table"}, "transform": [{"filter": "datum.p=='C' && datum.kind=='study'"}], "mark": {"type": "point", "shape": "square", "filled": true, "color": "#0000c0", "opacity": 1},
        "encoding": {"x": {"field": "est", "type": "quantitative"}, "size": {"field": "w", "type": "quantitative", "scale": {"domain": [0.07, 0.5], "range": [10, 180], "zero": false}, "legend": null}}},
       {"data": {"name": "table"}, "transform": [{"filter": "datum.p=='C' && datum.kind=='total'"}, {"fold": ["lo", "est", "hi"], "as": ["key", "val"]}], "mark": {"type": "trail", "color": "#000"},
        "encoding": {"x": {"field": "val", "type": "quantitative"}, "size": {"condition": {"test": "datum.key=='est'", "value": 19}, "value": 0}}},
       {"data": {"name": "favours"}, "transform": [{"filter": "datum.side=='experimental'"}], "mark": {"type": "text", "align": "right", "dx": -7, "dy": -15, "fontSize": 15, "color": "#555"}, "encoding": {"x": {"datum": 1}, "y": {"value": "height"}, "text": {"field": "t", "type": "nominal"}}},
       {"data": {"name": "favours"}, "transform": [{"filter": "datum.side=='control'"}], "mark": {"type": "text", "align": "left", "dx": 7, "dy": -15, "fontSize": 15, "color": "#555"}, "encoding": {"x": {"datum": 1}, "y": {"value": "height"}, "text": {"field": "t", "type": "nominal"}}}
     ]}
  ]}
]
}
